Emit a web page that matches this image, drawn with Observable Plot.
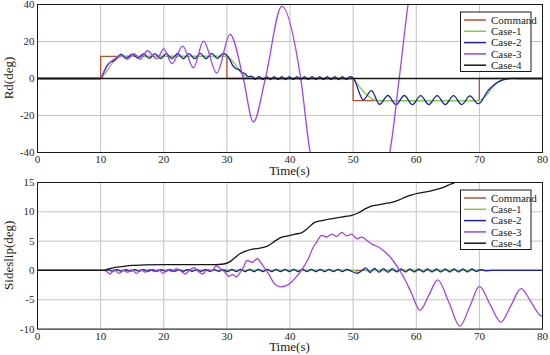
<!DOCTYPE html>
<html>
<head>
<meta charset="utf-8">
<script src="https://cdn.jsdelivr.net/npm/d3@7"></script>
<script src="https://cdn.jsdelivr.net/npm/@observablehq/plot@0.6"></script>
<style>
  body { margin: 0; background: #fff; }
  #chart { position: relative; width: 550px; height: 355px; background: #fff; }
  #chart svg { position: absolute; left: 0; overflow: visible; }
  #chart svg text { font-family: "Liberation Serif", "Times New Roman", serif; }
</style>
</head>
<body>
<div id="chart"></div>
<script>
// ---- data ----
const seriesNames = ["Command", "Case-1", "Case-2", "Case-3", "Case-4"];
const seriesColors = ["#b5532c", "#7fcf45", "#1e1eb0", "#a042ec", "#151515"];
const xTicks = [0, 10, 20, 30, 40, 50, 60, 70, 80];
const rdTicks = [-40, -20, 0, 20, 40];
const ssTicks = [-10, -5, 0, 5, 10, 15];

// Top panel: Rd(deg)  [time, value]
const rdCommand = [[0,0],[10,0],[10,12],[30,12],[30,0],[50,0],[50,-12],[70,-12],[70,0],[80,0]];
const rdCase1 = [[0,0],[10,0],[10.5,2],[11,4],[11.5,6.5],[12,9],[12.5,10.8],[13,11.7],[13.5,12],[14,12],
  [29.8,12],[30.3,11.4],[30.8,9.8],[31.3,7.6],[31.8,5.2],[32.3,3.0],[32.8,1.4],[33.3,0.5],[34,0],
  [50,0],[50.5,-2.2],[51,-4.4],[51.5,-6.5],[52,-8.3],[52.5,-9.8],[53,-11],[53.5,-11.7],[54,-12],
  [70,-12],[70.5,-11],[71,-9.5],[71.5,-7.5],[72,-5.2],[72.5,-3.4],[73,-2],[73.5,-1.2],[74,-0.6],[75,-0.1],[76,0],[80,0]];
const rdCase2 = [[0,0],[10,0],[10.5,3.5],[11,7],[11.5,8.8],[12,9.3],[12.6,11],[13.2,13.2],[14.1,11.0],[15.0,13.2],
  [15.9,11.0],[16.8,13.3],[17.7,10.9],[18.6,13.4],[19.5,10.8],[20.4,13.4],[21.3,10.8],[22.2,13.5],[23.1,10.7],
  [24.0,13.5],[24.9,10.7],[25.8,13.6],[26.7,10.7],[27.6,13.6],[28.5,10.8],[29.4,13.6],[30.0,12.6],[30.5,10],
  [30.9,7.2],[31.4,5.4],[31.9,4.8],[32.4,3.2],[32.9,2.6],[33.4,1.0],[33.9,1.3],[34.5,-0.5],[35.1,1.1],[35.7,-0.6],
  [36.3,1.0],[36.9,-0.6],[37.5,1.0],[38.1,-0.6],[38.7,1.0],[39.3,-0.6],[39.9,1.0],[40.5,-0.6],[41.1,1.0],[41.7,-0.6],
  [42.3,1.0],[42.9,-0.6],[43.5,1.0],[44.1,-0.6],[44.7,1.0],[45.3,-0.6],[45.9,1.0],[46.5,-0.6],[47.1,1.0],[47.7,-0.6],
  [48.3,1.0],[48.9,-0.6],[49.5,1.0],[50.0,0.3],[50.5,-3],[51.0,-8],[51.6,-11.6],[52.9,-6.5],[54.2,-14.0],[55.5,-9.2],
  [56.8,-14.1],[58.1,-9.2],[59.4,-14.1],[60.7,-9.3],[62.0,-14.1],[63.3,-9.3],[64.6,-14.1],[65.9,-9.3],[67.2,-14.1],
  [68.5,-9.4],[69.8,-13.6],[70.3,-12.6],[70.8,-9.6],[71.3,-7.0],[71.8,-5.0],[72.3,-3.5],[72.8,-2.2],[73.5,-1.0],
  [74.3,-0.3],[75,0.1],[76,0],[80,0]];
const rdCase3 = [[0,0],[10,0],[10.5,3],[11,6.5],[11.6,9],[12.3,10.8],[13.2,12.6],[14.2,10.4],[15.3,13.4],[16.3,10.4],
  [17.4,15.0],[18.9,10.6],[20.0,16.0],[21.3,8.0],[23.0,17.5],[24.7,5.8],[26.3,20.2],[28.4,2.9],[30.5,23.8],[32.6,0],
  [34.2,-23.6],[36.1,0],[38.7,39],[41.7,0],[43.2,-40],[49.5,-95],[55.8,-40],[57.3,0],[58.7,40],[62,100]];
const rdCase4 = [[0,0],[80,0]];

// Bottom panel: Sideslip(deg)  [time, value]
const ssCommand = [[0,0],[80,0]];
const ssCase1 = [[0,0],[10.5,0],[50.2,0],[50.9,-0.45],[51.6,0.2],[52.3,-0.1],[53,0],[69.5,0],[70.3,0.2],[71,0],[80,0]];
const ssCase2 = [[0,0],[10.5,0],[11.2,0.15],[11.9,-0.15],[12.6,0.15],[13.3,-0.15],[14.0,0.15],[14.7,-0.15],[15.4,0.15],
  [16.1,-0.15],[16.8,0.15],[17.5,-0.15],[18.2,0.15],[18.9,-0.15],[19.6,0.15],[20.3,-0.15],[21.0,0.15],[21.7,-0.15],
  [22.4,0.15],[23.1,-0.15],[23.8,0.15],[24.5,-0.15],[25.2,0.15],[25.9,-0.15],[26.6,0.15],[27.3,-0.15],[28.0,0.15],
  [28.7,-0.15],[29.4,0.15],[30.1,-0.2],[30.8,0.2],[31.5,-0.2],[32.2,0.2],[32.9,-0.2],[33.6,0.2],[34.3,-0.2],[35.0,0.2],
  [35.7,-0.2],[36.4,0.2],[37.1,-0.2],[37.8,0.2],[38.5,-0.2],[39.2,0.2],[39.9,-0.2],[40.6,0.2],[41.3,-0.2],[42.0,0.2],
  [42.7,-0.2],[43.4,0.2],[44.1,-0.2],[44.8,0.2],[45.5,-0.2],[46.2,0.2],[46.9,-0.2],[47.6,0.2],[48.3,-0.2],[49.0,0.2],
  [49.7,-0.1],[50.6,-0.5],[51.3,-0.1],[52.0,0.45],[52.7,-0.35],[53.4,0.35],[54.1,-0.3],[54.8,0.3],[55.5,-0.3],[56.2,0.3],
  [56.9,-0.25],[57.6,0.25],[58.3,-0.25],[59.0,0.25],[59.7,-0.25],[60.4,0.25],[61.1,-0.25],[61.8,0.25],[62.5,-0.25],
  [63.2,0.25],[63.9,-0.25],[64.6,0.25],[65.3,-0.25],[66.0,0.25],[66.7,-0.25],[67.4,0.25],[68.1,-0.25],[68.8,0.25],
  [69.5,-0.2],[70.2,0.15],[71,-0.05],[72,0],[80,0]];
const ssCase3 = [[0,0],[10.5,0],[11,-0.2],[11.5,-0.6],[12.2,0.1],[12.9,-0.5],[13.6,0],[14.3,-0.3],[15.0,0.1],[15.7,-0.5],
  [16.4,0.1],[17.1,-0.3],[17.8,0.2],[18.5,-0.2],[19.2,0.1],[19.9,-0.5],[20.6,0.1],[21.3,-0.2],[22.0,0.3],[22.7,-0.1],
  [23.4,-0.6],[24.1,0.1],[24.8,0.5],[25.5,-0.2],[26.2,-0.6],[26.9,0.2],[27.6,-0.1],[28.3,0.8],[29.0,0.3],[29.7,-0.3],
  [30.3,-1.0],[30.9,-0.7],[31.5,-1.1],[32.0,-0.5],[32.6,0.5],[33.2,1.7],[34.0,1.4],[34.8,2.0],[35.6,1.0],[36.6,-0.6],
  [37.6,-2.3],[38.6,-2.8],[39.4,-2.6],[40.2,-2.0],[41.0,-1.1],[41.8,0],[42.9,2.0],[43.7,4.0],[44.2,4.8],[45.0,6.0],
  [45.8,5.7],[46.6,6.2],[47.4,5.8],[48.2,6.5],[49.0,5.9],[49.8,6.2],[50.6,5.4],[51.4,5.7],[52.2,5.1],[53.0,4.5],
  [54.0,4.0],[55.1,3.1],[56.1,2.0],[57.2,0.3],[58.3,-1.7],[59.3,-4.0],[60.6,-6.8],[62.0,-4.2],[63.4,-1.6],[65.2,-5.5],
  [66.9,-9.5],[68.5,-6.1],[70.0,-2.7],[71.7,-5.8],[73.4,-8.8],[75.0,-6.0],[76.6,-3.1],[78.2,-5.4],[79.7,-7.7],[80,-7.8]];
const ssCase4 = [[0,0],[10.5,0],[11,0.2],[12,0.45],[13,0.6],[14,0.75],[15,0.85],[17,0.95],[20,1.0],[25,1.0],[28,1.0],
  [29.5,1.1],[30.5,1.5],[31.3,2.2],[32,2.8],[33,3.3],[34,3.6],[35.6,3.9],[36.5,4.2],[37.6,5.0],[38.5,5.6],[39.7,5.9],
  [40.8,6.2],[41.8,6.4],[42.8,7.2],[43.9,8.2],[45.5,8.6],[46.5,8.8],[47.6,9.0],[48.7,9.2],[49.8,9.4],[50.8,9.8],
  [51.9,10.5],[53,11.0],[54,11.2],[55,11.4],[56.1,11.6],[57.2,12.0],[58.3,12.5],[59.3,12.9],[60.4,13.2],[61.5,13.4],
  [62.5,13.6],[63.5,13.9],[64.6,14.3],[65.4,14.7],[66.2,15.0],[67.5,15.6],[70,16.5],[75,18],[80,19.5]];

// ---- drawing ----
const FONT = '"Liberation Serif","Times New Roman",serif';
const chartDiv = document.getElementById("chart");

function panel({top, height, marginTop, marginBottom, yDomain, yTicks, data, yLabel, legendTop}) {
  const marks = [
    Plot.gridX(xTicks, {stroke: "#c2c2c2", strokeOpacity: 1}),
    Plot.gridY(yTicks, {stroke: "#c2c2c2", strokeOpacity: 1}),
    ...data.map((d, i) => Plot.line(d, {
      x: p => p[0], y: p => p[1],
      stroke: seriesColors[i], strokeWidth: 1.3,
      curve: i === 0 ? "linear" : "monotone-x", clip: true
    })),
    Plot.frame({stroke: "#1a1a1a", strokeWidth: 1}),
    Plot.axisX(xTicks, {tickSize: 0, tickPadding: 3, label: null, tickFormat: d => String(d)}),
    Plot.axisY(yTicks, {tickSize: 0, tickPadding: 3, label: null, tickFormat: d => String(d)})
  ];
  const chart = Plot.plot({
    width: 550, height, marginLeft: 37, marginRight: 8, marginTop, marginBottom,
    style: {fontFamily: FONT, fontSize: "11px", background: "transparent", color: "#262626", overflow: "visible"},
    x: {domain: [0, 80]},
    y: {domain: yDomain},
    marks
  });
  chart.style.top = top + "px";
  chart.style.fontFamily = FONT;
  const svg = d3.select(chart);
  const plotBottom = height - marginBottom;
  // axis titles
  svg.append("text")
    .attr("x", (37 + 542) / 2).attr("y", plotBottom + 22.5)
    .attr("text-anchor", "middle").attr("font-size", 13).attr("fill", "#1a1a1a")
    .text("Time(s)");
  svg.append("text")
    .attr("transform", `translate(13,${(marginTop + plotBottom) / 2}) rotate(-90)`)
    .attr("text-anchor", "middle").attr("font-size", 13).attr("fill", "#1a1a1a")
    .text(yLabel);
  // legend
  const lg = svg.append("g");
  lg.append("rect").attr("x", 460.5).attr("y", legendTop).attr("width", 70.5).attr("height", 59.5)
    .attr("fill", "#fff").attr("stroke", "#1a1a1a").attr("stroke-width", 1);
  seriesNames.forEach((name, i) => {
    const cy = legendTop + 8 + i * 11.3;
    lg.append("line").attr("x1", 464).attr("x2", 486).attr("y1", cy).attr("y2", cy)
      .attr("stroke", seriesColors[i]).attr("stroke-width", 1.5);
    lg.append("text").attr("x", 491).attr("y", cy).attr("dy", "0.35em")
      .attr("text-anchor", "start").attr("font-size", 11).attr("fill", "#1a1a1a").text(name);
  });
  chartDiv.appendChild(chart);
}

panel({top: 0, height: 177, marginTop: 4, marginBottom: 25, yDomain: [-40, 40], yTicks: rdTicks,
  data: [rdCommand, rdCase1, rdCase2, rdCase3, rdCase4], yLabel: "Rd(deg)", legendTop: 12});
panel({top: 177, height: 178, marginTop: 5, marginBottom: 26.4, yDomain: [-10, 15], yTicks: ssTicks,
  data: [ssCommand, ssCase1, ssCase2, ssCase3, ssCase4], yLabel: "Sideslip(deg)", legendTop: 13});
</script>
</body>
</html>
